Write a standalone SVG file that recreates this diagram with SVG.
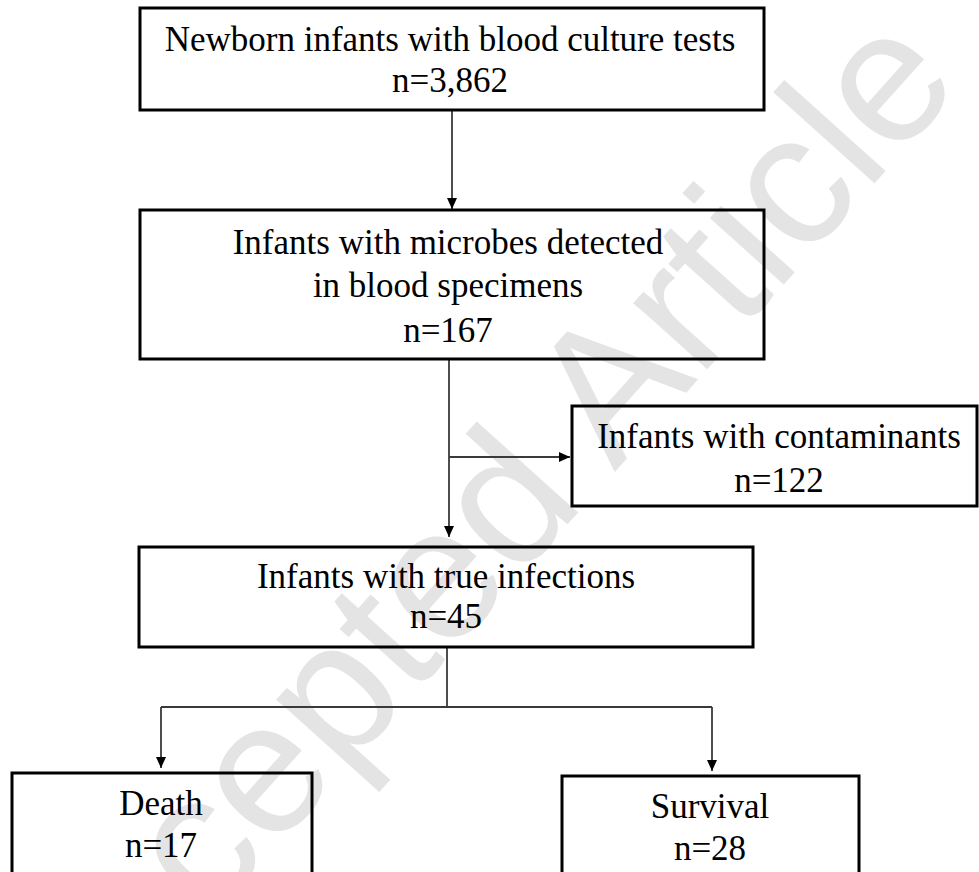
<svg xmlns="http://www.w3.org/2000/svg" width="979" height="872" viewBox="0 0 979 872">
<style>
.box{fill:none;stroke:#000;stroke-width:3}
.t{font-family:"Liberation Serif","Times New Roman",serif;font-size:35px;fill:#000;text-anchor:middle}
.c{fill:none;stroke:#3a3a3a;stroke-width:1.8}
.wm{font-family:"Liberation Sans",Arial,sans-serif;font-size:188px;fill:#e4e4e4;text-anchor:middle}
</style>
<defs>
<marker id="ah" markerUnits="userSpaceOnUse" markerWidth="12" markerHeight="10" refX="11" refY="5" orient="auto">
<path d="M0,0 L11,5 L0,10 Z" fill="#000"/>
</marker>
</defs>
<rect width="979" height="872" fill="#fff"/>
<text class="wm" transform="translate(513,585) rotate(-48)">Accepted Article</text>
<g id="connectors">
<line class="c" x1="452" y1="111" x2="452" y2="209" marker-end="url(#ah)"/>
<line class="c" x1="449" y1="359" x2="449" y2="537" marker-end="url(#ah)"/>
<line class="c" x1="449" y1="457" x2="570" y2="457" marker-end="url(#ah)"/>
<polyline class="c" points="447,647 447,707"/>
<line class="c" x1="161" y1="707" x2="712" y2="707"/>
<line class="c" x1="161" y1="707" x2="161" y2="768" marker-end="url(#ah)"/>
<line class="c" x1="712" y1="707" x2="712" y2="771" marker-end="url(#ah)"/>
</g>
<g id="n1">
<rect class="box" x="140" y="8" width="624" height="102"/>
<text class="t" x="450" y="51">Newborn infants with blood culture tests</text>
<text class="t" x="450" y="92">n=3,862</text>
</g>
<g id="n2">
<rect class="box" x="140" y="210" width="624" height="149"/>
<text class="t" x="448" y="254">Infants with microbes detected</text>
<text class="t" x="448" y="297">in blood specimens</text>
<text class="t" x="448" y="342">n=167</text>
</g>
<g id="n3">
<rect class="box" x="572" y="406" width="405" height="100"/>
<text class="t" x="779" y="448">Infants with contaminants</text>
<text class="t" x="779" y="492">n=122</text>
</g>
<g id="n4">
<rect class="box" x="139" y="547" width="614" height="100"/>
<text class="t" x="446" y="588">Infants with true infections</text>
<text class="t" x="446" y="628">n=45</text>
</g>
<g id="n5">
<rect class="box" x="12" y="773" width="300" height="110"/>
<text class="t" x="161" y="815">Death</text>
<text class="t" x="161" y="857">n=17</text>
</g>
<g id="n6">
<rect class="box" x="562" y="776" width="297" height="110"/>
<text class="t" x="710" y="818">Survival</text>
<text class="t" x="710" y="860">n=28</text>
</g>
</svg>
